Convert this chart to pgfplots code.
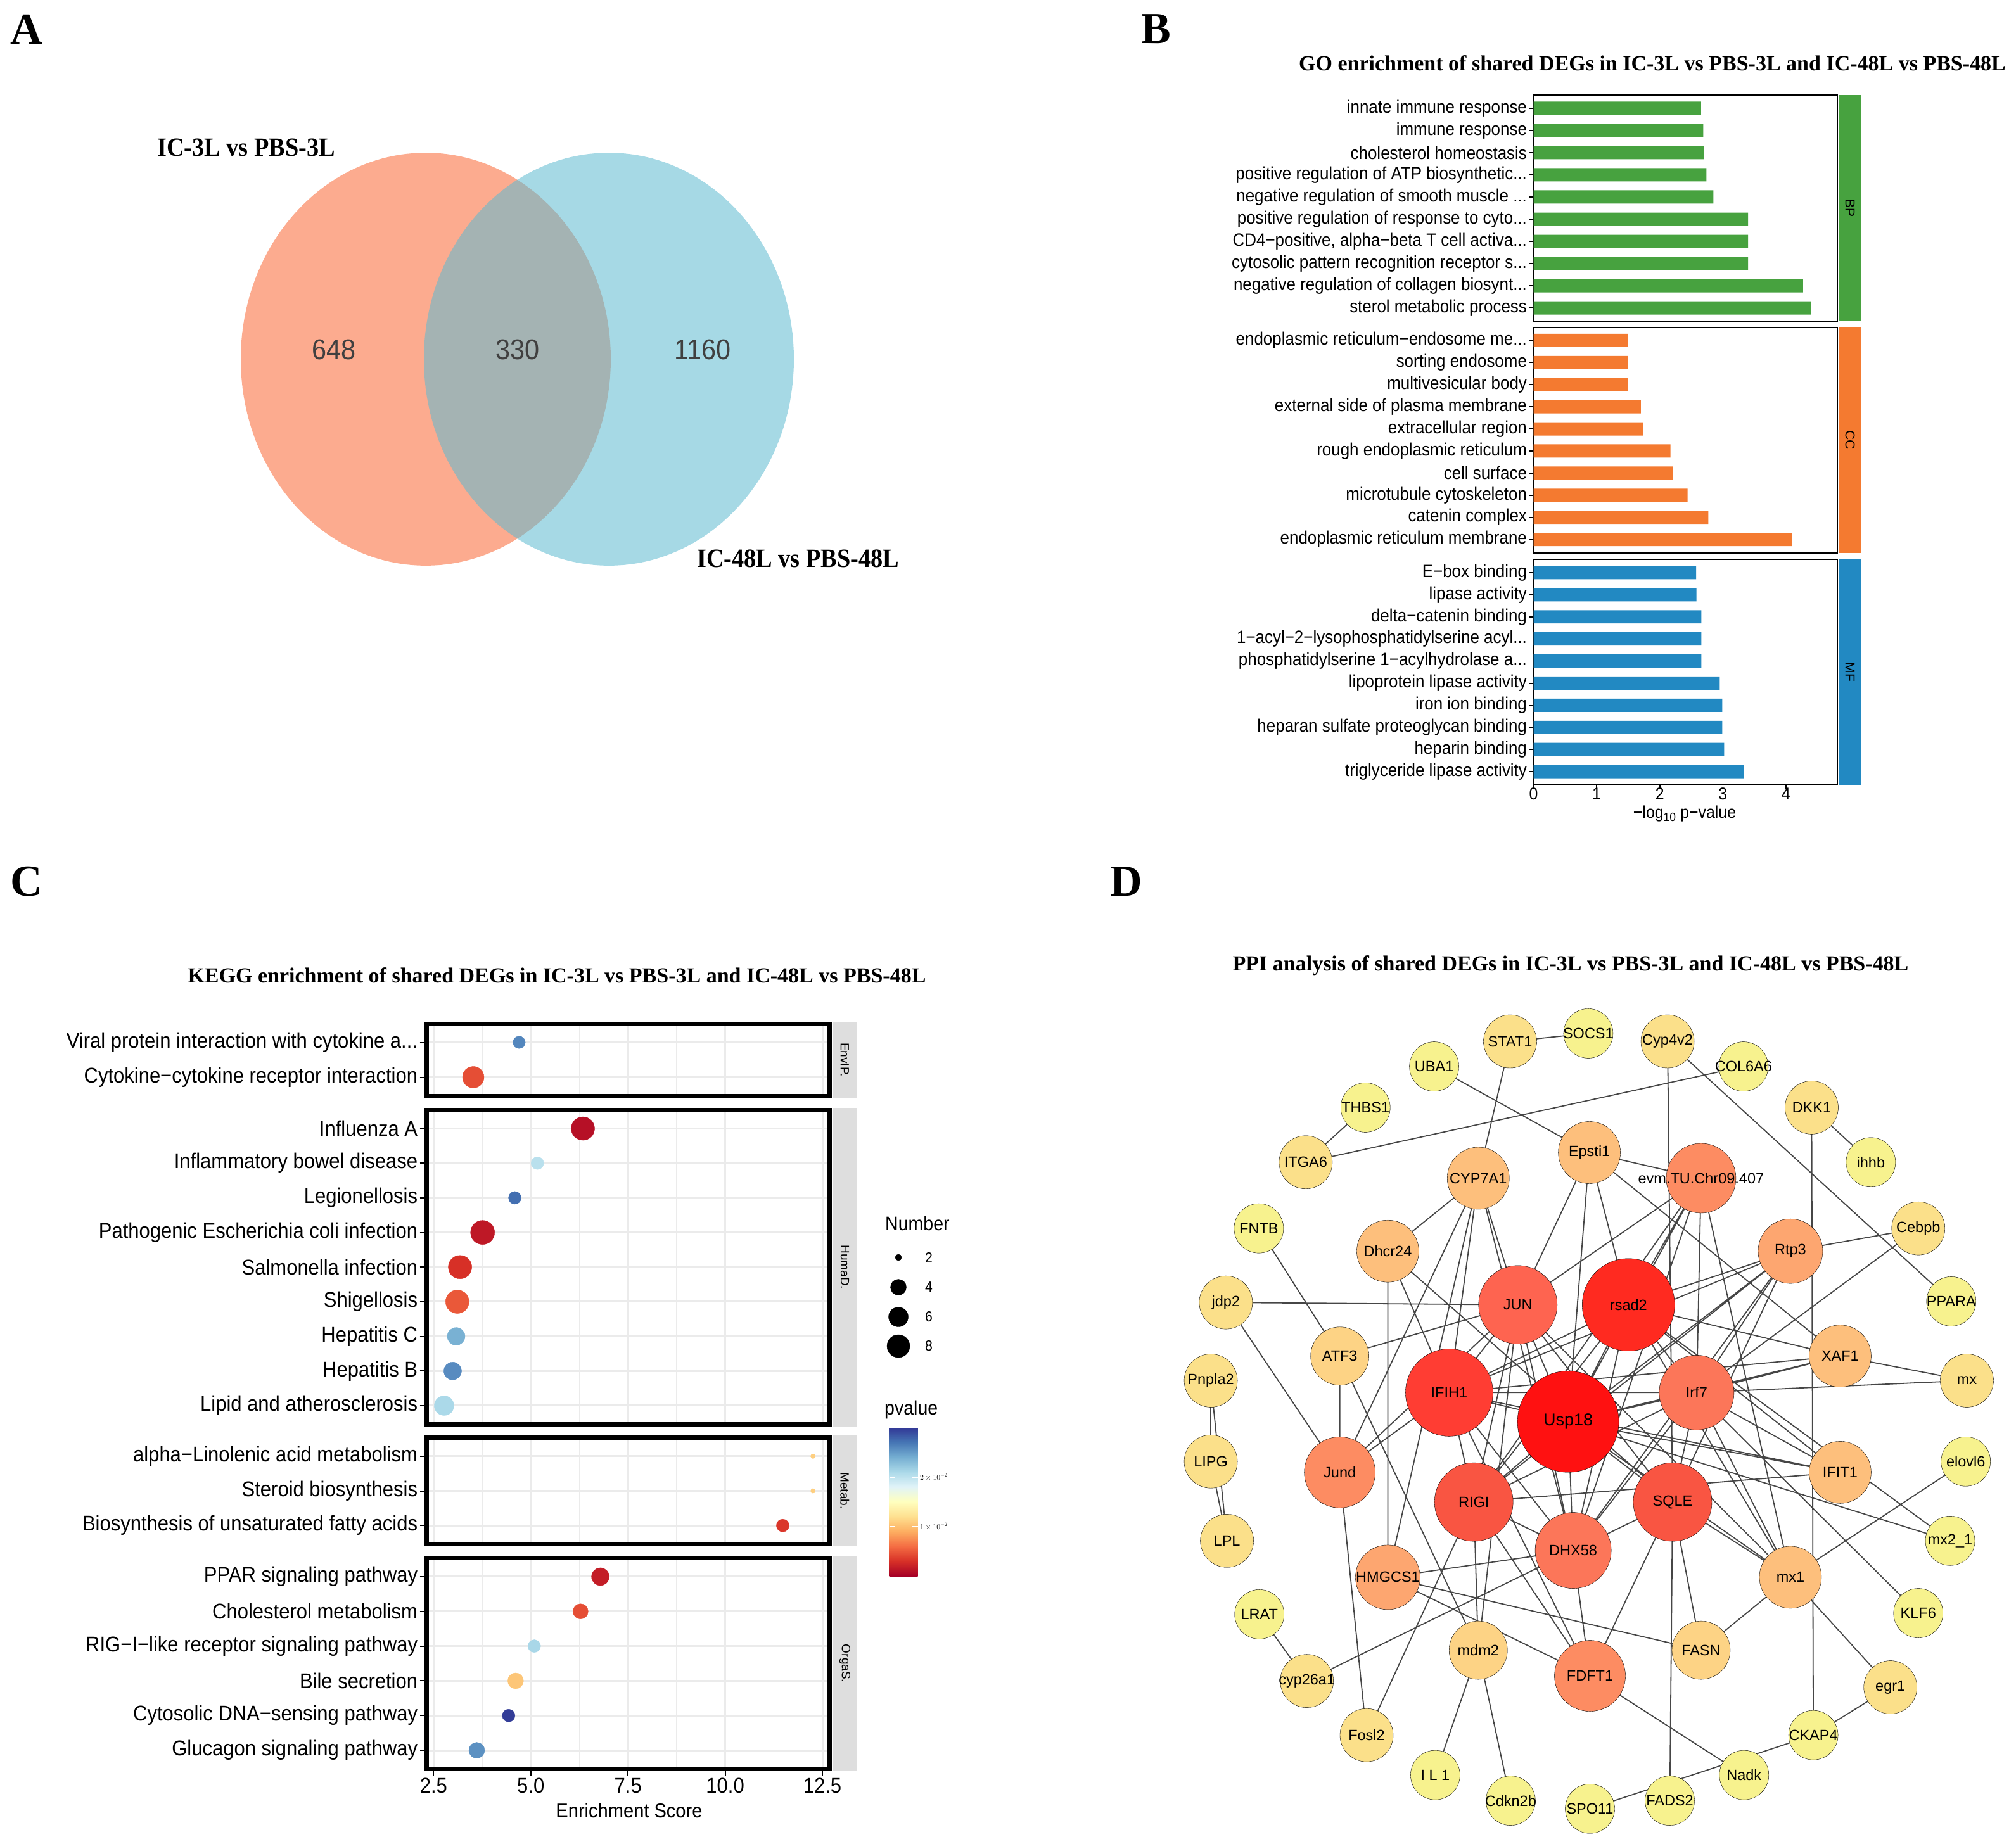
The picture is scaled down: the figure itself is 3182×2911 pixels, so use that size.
\documentclass[border=0pt]{standalone}
\usepackage{fontspec}
\usepackage{pgfplots}
\usepackage{pgfplotstable}
\pgfplotsset{compat=1.18}

\setmainfont{Liberation Sans}
\newfontfamily\sfS{Liberation Sans}[FakeStretch=0.92]
\newfontfamily\sfN{Liberation Sans}
\newfontfamily\rmT{Liberation Serif}
\newfontfamily\rmS{Liberation Serif}[FakeStretch=0.92]
\newcommand\fs[1]{\fontsize{#1}{#1}\selectfont}
\newcommand\dd{...}

\definecolor{vennL}{RGB}{249,102,51}
\definecolor{vennR}{RGB}{93,186,208}
\definecolor{venntxt}{RGB}{64,64,64}
\definecolor{gobp}{RGB}{71,162,63}
\definecolor{gocc}{RGB}{244,122,48}
\definecolor{gomf}{RGB}{34,137,194}
\definecolor{gridgray}{RGB}{235,235,235}
\definecolor{stripgray}{RGB}{222,222,222}
\definecolor{edgegray}{RGB}{70,70,70}

\pgfplotsset{
  /pgf/number format/assume math mode=true,
  colormap={rdylbu}{rgb255(0cm)=(165,0,38) rgb255(1cm)=(215,48,39) rgb255(2cm)=(244,109,67)
    rgb255(3cm)=(253,174,97) rgb255(4cm)=(254,224,144) rgb255(5cm)=(255,255,191)
    rgb255(6cm)=(224,243,248) rgb255(7cm)=(171,217,233) rgb255(8cm)=(116,173,209)
    rgb255(9cm)=(69,117,180) rgb255(10cm)=(49,54,149)},
  colormap={ppimap}{rgb255(0cm)=(247,242,142) rgb255(1cm)=(251,224,138) rgb255(3cm)=(253,211,133)
    rgb255(4cm)=(253,191,124) rgb255(6cm)=(253,166,112) rgb255(7cm)=(253,140,98)
    rgb255(9cm)=(252,118,89) rgb255(10cm)=(254,100,80) rgb255(11cm)=(249,85,66)
    rgb255(13cm)=(255,61,51) rgb255(15cm)=(255,42,32) rgb255(18cm)=(255,17,17)},
  goax/.style={scale only axis, width=479.5pt, xmin=0, xmax=4.814, ymin=0.4, ymax=10.6,
    xbar, bar width=0.6, ytick={1,...,10}, tick pos=left, tick align=outside,
    major tick length=7pt, tick style={draw=black, line width=1.6pt},
    axis line style={line width=2pt},
    yticklabel style={font=\sfS\fs{28.2}, text=black},
    xticklabel style={font=\sfS\fs{27}, text=black, yshift=6pt}},
  keggax/.style={scale only axis, width=635.9pt, xmin=2.325, xmax=12.688, ymin=0.459,
    xtick={2.5,5,7.5,10,12.5}, minor xtick={3.75,6.25,8.75,11.25},
    xmajorgrids, xminorgrids, ymajorgrids,
    major grid style={draw=gridgray, line width=3pt},
    minor grid style={draw=gridgray, line width=1.6pt},
    axis line style={line width=6.5pt},
    tick pos=left, tick align=outside, major tick length=11pt, minor tick length=0pt,
    ytick style={draw=black, line width=2pt},
    xtick style={draw=none}, xticklabels={},
    yticklabel style={font=\sfS\fs{33.7}, text=black},
    colormap name=rdylbu, point meta min=0, point meta max=0.0301},
  keggpts/.style={scatter, only marks, mark=*, scatter src=explicit,
    scatter/use mapped color={draw=mapped color, fill=mapped color},
    visualization depends on={\thisrow{d}/2\as\keggrad},
    scatter/@pre marker code/.append style={/tikz/mark size=\keggrad pt}},
  ppiedge/.style={no marks, draw=edgegray, line width=1.8pt, unbounded coords=jump},
}

% KEGG facets: y = row (1 = bottom), x = enrichment score, n = Number, d = dot diameter, p = pvalue
\pgfplotstableread{
y x n d p
1 3.52 7 34 0.0045
2 4.70 3 19.5 0.0262
}\keggEnv
\pgfplotstableread{
y x n d p
1 2.77 6 31 0.0211
2 2.99 5 28 0.0259
3 3.08 5 28 0.0238
4 3.11 8 37 0.0050
5 3.18 8 37 0.0030
6 3.76 8 38 0.0015
7 4.59 3 20 0.0274
8 5.17 3 20 0.0203
9 6.34 8 37 0.0010
}\keggHum
\pgfplotstableread{
y x n d p
1 11.48 3 20 0.0033
2 12.26 1 7.5 0.0110
3 12.26 1 7.5 0.0110
}\keggMet
\pgfplotstableread{
y x n d p
1 3.61 4 25 0.0256
2 4.43 3 20 0.0298
3 4.61 4 25 0.0105
4 5.09 3 20 0.0212
5 6.28 4 24 0.0045
6 6.79 5 28 0.0018
}\keggOrg
% size legend of panel C
\pgfplotstableread{
x y n r
1418 1985 2 5
1418 2032 4 12.5
1418 2079 6 15.5
1418 2125 8 18
}\keggSize

% PPI nodes (layout coordinates), r = radius, deg = degree
\pgfplotstableread{
key lab x y r deg fsz
SOCS1 SOCS1 802 146 39 1 23.5
STAT1 STAT1 662 160 42 2 23.5
UBA1 UBA1 526 204 39 1 23.5
THBS1 THBS1 403 276 39 1 23.5
ITGA6 ITGA6 296 372 42 2 23.5
FNTB FNTB 212 488 39 1 23.5
jdp2 jdp2 153 618 42 2 23.5
Pnpla2 Pnpla2 126 755 42 2 23.5
LIPG LIPG 126 897 42 2 23.5
LPL LPL 155 1036 42 2 23.5
LRAT LRAT 213 1165 39 1 23.5
cyp26a1 cyp26a1 298 1282 42 2 23.5
Fosl2 Fosl2 405 1377 42 2 23.5
IL1 I~L~1 528 1447 39 1 23.5
Cdkn2b Cdkn2b 663 1492 39 1 23.5
SPO11 SPO11 805 1506 39 1 23.5
FADS2 FADS2 948 1492 39 1 23.5
Nadk Nadk 1081 1447 39 1 23.5
CKAP4 CKAP4 1205 1377 39 1 23.5
egr1 egr1 1343 1293 42 2 23.5
KLF6 KLF6 1393 1163 39 1 23.5
mx21 mx2\_1 1450 1036 39 1 23.5
elovl6 elovl6 1478 897 39 1 23.5
mx mx 1480 755 42 2 23.5
PPARA PPARA 1452 616 39 1 23.5
Cebpb Cebpb 1393 488 42 2 23.5
ihhb ihhb 1308 372 39 1 23.5
DKK1 DKK1 1202 276 42 2 23.5
COL6A6 COL6A6 1080 204 39 1 23.5
Cyp4v2 Cyp4v2 944 160 42 2 23.5
Epsti1 Epsti1 804 355 49 5 23.5
evm evm.TU.Chr09.407 1004 400 55 8 23.5
Rtp3 Rtp3 1164 528 51 7 23.5
XAF1 XAF1 1253 712 49 5 23.5
IFIT1 IFIT1 1253 916 49 5 23.5
mx1 mx1 1164 1100 49 5 23.5
FASN FASN 1004 1228 46 4 23.5
FDFT1 FDFT1 805 1273 56 8 23.5
mdm2 mdm2 605 1228 46 4 23.5
HMGCS1 HMGCS1 443 1100 51 7 23.5
Jund Jund 357 916 56 8 23.5
ATF3 ATF3 357 712 46 4 23.5
Dhcr24 Dhcr24 443 528 49 5 23.5
CYP7A1 CYP7A1 605 400 49 5 23.5
JUN JUN 676 622 62 11 23.5
rsad2 rsad2 874 622 73 16 23.5
IFIH1 IFIH1 553 776 69 14 23.5
Irf7 Irf7 996 776 59 10 23.5
Usp18 Usp18 766 827 80 19 27
RIGI RIGI 597 968 62 12 23.5
SQLE SQLE 953 968 62 12 23.5
DHX58 DHX58 775 1053 60 10 23.5
}\ppinodes

\pgfplotstablegetrowsof{\ppinodes}
\pgfmathtruncatemacro\ppilast{\pgfplotsretval-1}
\foreach \i in {0,...,\ppilast}{%
  \pgfplotstablegetelem{\i}{key}\of\ppinodes\let\ppik\pgfplotsretval
  \pgfplotstablegetelem{\i}{x}\of\ppinodes\let\ppix\pgfplotsretval
  \pgfplotstablegetelem{\i}{y}\of\ppinodes\let\ppiy\pgfplotsretval
  \expandafter\xdef\csname ppi@\ppik\endcsname{\ppix,\ppiy}%
}
\def\ppiedges{}
\foreach \a/\b in {SOCS1/STAT1,STAT1/CYP7A1,UBA1/Epsti1,THBS1/ITGA6,ITGA6/COL6A6,
  Cyp4v2/SQLE,Cyp4v2/PPARA,DKK1/ihhb,DKK1/CKAP4,FNTB/ATF3,jdp2/JUN,jdp2/Jund,
  Pnpla2/LIPG,LIPG/LPL,Pnpla2/LPL,LRAT/cyp26a1,cyp26a1/DHX58,Fosl2/Jund,Fosl2/RIGI,
  IL1/mdm2,Cdkn2b/mdm2,SPO11/CKAP4,CKAP4/egr1,FADS2/SQLE,Nadk/FDFT1,KLF6/Irf7,
  egr1/mx1,mx21/Usp18,mx21/rsad2,elovl6/mx1,mx/XAF1,mx/Irf7,Cebpb/Rtp3,Cebpb/Irf7,
  Epsti1/evm,Epsti1/JUN,Epsti1/Usp18,Epsti1/rsad2,Epsti1/XAF1,
  CYP7A1/JUN,CYP7A1/Dhcr24,CYP7A1/IFIH1,CYP7A1/Jund,CYP7A1/HMGCS1,CYP7A1/DHX58,
  Dhcr24/HMGCS1,Dhcr24/SQLE,Dhcr24/IFIH1,ATF3/Jund,ATF3/JUN,ATF3/mdm2,
  Jund/JUN,Jund/IFIH1,HMGCS1/FDFT1,HMGCS1/FASN,HMGCS1/DHX58,mdm2/JUN,mdm2/RIGI,
  FDFT1/SQLE,FDFT1/RIGI,FDFT1/IFIH1,FDFT1/DHX58,FASN/SQLE,FASN/mx1,
  mx1/Irf7,mx1/rsad2,mx1/Usp18,mx1/SQLE,mx1/evm,mx1/JUN,
  IFIT1/Usp18,IFIT1/Irf7,IFIT1/IFIH1,IFIT1/rsad2,IFIT1/RIGI,
  XAF1/rsad2,XAF1/Irf7,XAF1/Usp18,XAF1/IFIH1,
  Rtp3/rsad2,Rtp3/Usp18,Rtp3/Irf7,Rtp3/IFIH1,Rtp3/RIGI,Rtp3/DHX58,Rtp3/SQLE,
  evm/rsad2,evm/Usp18,evm/Irf7,evm/JUN,evm/DHX58,evm/RIGI,
  JUN/IFIH1,JUN/Usp18,JUN/RIGI,JUN/SQLE,JUN/DHX58,
  rsad2/IFIH1,rsad2/Usp18,rsad2/Irf7,rsad2/RIGI,rsad2/DHX58,
  IFIH1/Usp18,IFIH1/RIGI,IFIH1/DHX58,IFIH1/Irf7,
  Usp18/Irf7,Usp18/RIGI,Usp18/SQLE,Usp18/DHX58,
  Irf7/RIGI,Irf7/DHX58,Irf7/SQLE,RIGI/DHX58,SQLE/DHX58}{%
  \xdef\ppiedges{\ppiedges(\csname ppi@\a\endcsname)(\csname ppi@\b\endcsname)(nan,nan)}%
}

\begin{document}
\begin{tikzpicture}
\path[use as bounding box] (0pt,0pt) rectangle (3182pt,-2911pt);

%% ---------------- A: Venn
\node[anchor=base west, inner sep=0pt, font=\rmT\bfseries\fs{70}] at (16pt,-70pt) {A};
\begin{axis}[at={(0pt,0pt)}, anchor=north west, scale only axis, width=1500pt, height=1000pt,
  xmin=0, xmax=1500, ymin=0, ymax=1000, y dir=reverse, hide axis, clip=false]
\addplot[only marks, mark=*, mark size=292pt,
  mark options={yscale=1.116, draw opacity=0, fill=vennL, fill opacity=0.55}] coordinates {(672,567)};
\addplot[only marks, mark=*, mark size=292pt,
  mark options={yscale=1.116, draw opacity=0, fill=vennR, fill opacity=0.55}] coordinates {(961,567)};
\addplot[draw=none, mark=none, point meta=explicit symbolic, nodes near coords,
  every node near coord/.append style={anchor=center, inner sep=0pt, font=\sfS\fs{45}, text=venntxt}]
  coordinates {(527,552)[648] (817,552)[330] (1109,552)[1160]};
\end{axis}
\node[anchor=base west, inner sep=0pt, font=\rmS\bfseries\fs{41.6}] at (248pt,-247pt) {IC-3L vs PBS-3L};
\node[anchor=base west, inner sep=0pt, font=\rmS\bfseries\fs{41.6}] at (1100pt,-895pt) {IC-48L vs PBS-48L};

%% ---------------- B: GO bars
\node[anchor=base west, inner sep=0pt, font=\rmT\bfseries\fs{70}] at (1801pt,-69pt) {B};
\node[anchor=base, inner sep=0pt, font=\rmT\bfseries\fs{34}] at (2608pt,-112pt)
  {GO enrichment of shared DEGs in IC-3L vs PBS-3L and IC-48L vs PBS-48L};

\begin{axis}[goax, at={(2420.5pt,-150pt)}, anchor=north west, height=357pt, xtick=\empty,
  yticklabels={sterol metabolic process, negative regulation of collagen biosynt\dd,
    cytosolic pattern recognition receptor s\dd, {CD4−positive, alpha−beta T cell activa\dd},
    positive regulation of response to cyto\dd, negative regulation of smooth muscle \dd,
    positive regulation of ATP biosynthetic\dd, cholesterol homeostasis, immune response,
    innate immune response}]
\addplot[draw=none, fill=gobp] coordinates {(4.39,1) (4.27,2) (3.40,3) (3.40,4) (3.40,5)
  (2.85,6) (2.74,7) (2.70,8) (2.69,9) (2.655,10)};
\end{axis}
\begin{axis}[goax, at={(2420.5pt,-516.5pt)}, anchor=north west, height=356pt, xtick=\empty,
  yticklabels={endoplasmic reticulum membrane, catenin complex, microtubule cytoskeleton,
    cell surface, rough endoplasmic reticulum, extracellular region,
    external side of plasma membrane, multivesicular body, sorting endosome,
    endoplasmic reticulum−endosome me\dd}]
\addplot[draw=none, fill=gocc] coordinates {(4.09,1) (2.77,2) (2.44,3) (2.21,4) (2.17,5)
  (1.73,6) (1.70,7) (1.50,8) (1.50,9) (1.50,10)};
\end{axis}
\begin{axis}[goax, at={(2420.5pt,-883pt)}, anchor=north west, height=356pt, xtick={0,1,2,3,4},
  yticklabels={triglyceride lipase activity, heparin binding, heparan sulfate proteoglycan binding,
    iron ion binding, lipoprotein lipase activity, phosphatidylserine 1−acylhydrolase a\dd,
    1−acyl−2−lysophosphatidylserine acyl\dd, delta−catenin binding, lipase activity,
    E−box binding}]
\addplot[draw=none, fill=gomf] coordinates {(3.33,1) (3.02,2) (2.99,3) (2.99,4) (2.95,5)
  (2.66,6) (2.66,7) (2.66,8) (2.58,9) (2.575,10)};
\end{axis}
\fill[gobp] (2902pt,-150pt) rectangle (2938pt,-507pt);
\fill[gocc] (2902pt,-516.5pt) rectangle (2938pt,-872.5pt);
\fill[gomf] (2902pt,-883pt) rectangle (2938pt,-1239pt);
\node[rotate=-90, font=\sfN\fs{21}] at (2920pt,-328.5pt) {BP};
\node[rotate=-90, font=\sfN\fs{21}] at (2920pt,-694.5pt) {CC};
\node[rotate=-90, font=\sfN\fs{21}] at (2920pt,-1061pt) {MF};
\node[font=\sfS\fs{27}] at (2659pt,-1285pt) {−log\textsubscript{10} p−value};

%% ---------------- C: KEGG dots
\node[anchor=base west, inner sep=0pt, font=\rmT\bfseries\fs{70}] at (16pt,-1414pt) {C};
\node[anchor=base, inner sep=0pt, font=\rmT\bfseries\fs{34}] at (879pt,-1551pt)
  {KEGG enrichment of shared DEGs in IC-3L vs PBS-3L and IC-48L vs PBS-48L};

\begin{axis}[keggax, at={(673.65pt,-1615.75pt)}, anchor=north west, height=114.5pt, ymax=2.541,
  ytick={1,2}, yticklabels={Cytokine−cytokine receptor interaction,
    Viral protein interaction with cytokine a\dd}]
\addplot[keggpts] table[x=x, y=y, meta=p]{\keggEnv};
\end{axis}
\begin{axis}[keggax, at={(673.65pt,-1751.95pt)}, anchor=north west, height=496.6pt, ymax=9.541,
  ytick={1,...,9}, yticklabels={Lipid and atherosclerosis, Hepatitis B, Hepatitis C, Shigellosis,
    Salmonella infection, Pathogenic Escherichia coli infection, Legionellosis,
    Inflammatory bowel disease, Influenza A},
  colorbar, colorbar/width=45pt,
  colorbar style={at={(parent axis.north east)}, anchor=north west, xshift=85.45pt, yshift=-501.05pt,
    scale only axis, height=235pt, axis line style={draw=none}, scaled y ticks=false,
    ytick={0.01,0.02}, yticklabels={$1\times10^{-2}$, $2\times10^{-2}$},
    yticklabel style={font=\rmT\fs{12}, text=black},
    tick pos=both, yticklabel pos=right, tick align=inside, major tick length=9pt,
    ytick style={draw=white, line width=2pt}}]
\addplot[keggpts] table[x=x, y=y, meta=p]{\keggHum};
\end{axis}
\begin{axis}[keggax, at={(673.65pt,-2269.25pt)}, anchor=north west, height=168.5pt, ymax=3.541,
  ytick={1,2,3}, yticklabels={Biosynthesis of unsaturated fatty acids, Steroid biosynthesis,
    alpha−Linolenic acid metabolism}]
\addplot[keggpts] table[x=x, y=y, meta=p]{\keggMet};
\end{axis}
\begin{axis}[keggax, at={(673.65pt,-2459.25pt)}, anchor=north west, height=333.5pt, ymax=6.541,
  ytick={1,...,6}, yticklabels={Glucagon signaling pathway, Cytosolic DNA−sensing pathway,
    Bile secretion, RIG−I−like receptor signaling pathway, Cholesterol metabolism,
    PPAR signaling pathway},
  xtick style={draw=black, line width=2pt}, xticklabels={2.5,5.0,7.5,10.0,12.5},
  xticklabel style={font=\sfS\fs{33.7}, text=black}]
\addplot[keggpts] table[x=x, y=y, meta=p]{\keggOrg};
\end{axis}
\fill[stripgray] (1315pt,-1612.5pt) rectangle (1352pt,-1733.5pt);
\fill[stripgray] (1315pt,-1748.7pt) rectangle (1352pt,-2251.8pt);
\fill[stripgray] (1315pt,-2266pt) rectangle (1352pt,-2441pt);
\fill[stripgray] (1315pt,-2456pt) rectangle (1352pt,-2796pt);
\node[rotate=-90, font=\sfN\fs{19}] at (1333.5pt,-1673pt) {EnvIP.};
\node[rotate=-90, font=\sfN\fs{19}] at (1333.5pt,-2000.3pt) {HumaD.};
\node[rotate=-90, font=\sfN\fs{19}] at (1333.5pt,-2353.5pt) {Metab.};
\node[rotate=-90, font=\sfN\fs{19}] at (1333.5pt,-2626pt) {OrgaS.};
\node[font=\sfS\fs{31.6}] at (993pt,-2858pt) {Enrichment Score};

% size legend
\node[anchor=base west, inner sep=0pt, font=\sfS\fs{31}] at (1397pt,-1942pt) {Number};
\begin{axis}[at={(1350pt,-1880pt)}, anchor=north west, scale only axis, width=250pt, height=300pt,
  xmin=1350, xmax=1600, ymin=1880, ymax=2180, y dir=reverse, hide axis, clip=false]
\addplot[scatter, only marks, mark=*, scatter src=explicit,
  scatter/use mapped color={draw=black, fill=black},
  visualization depends on={\thisrow{r}\as\lgrad},
  scatter/@pre marker code/.append style={/tikz/mark size=\lgrad pt}]
  table[x=x, y=y, meta=n]{\keggSize};
\addplot[draw=none, mark=none, nodes near coords, point meta=explicit,
  every node near coord/.append style={anchor=west, xshift=42pt, inner sep=0pt, font=\sfS\fs{23}, text=black}]
  table[x=x, y=y, meta=n]{\keggSize};
\end{axis}
\node[anchor=base west, inner sep=0pt, font=\sfS\fs{31}] at (1396pt,-2233pt) {pvalue};

%% ---------------- D: PPI network
\node[anchor=base west, inner sep=0pt, font=\rmT\bfseries\fs{70}] at (1752pt,-1414pt) {D};
\node[anchor=base, inner sep=0pt, font=\rmT\bfseries\fs{34}] at (2479pt,-1532pt)
  {PPI analysis of shared DEGs in IC-3L vs PBS-3L and IC-48L vs PBS-48L};
\begin{axis}[at={(1800pt,-1500pt)}, anchor=north west, scale only axis, width=1382pt, height=1411pt,
  xmin=0, xmax=1568, ymin=0, ymax=1568, y dir=reverse, hide axis, clip=false,
  colormap name=ppimap, point meta min=1, point meta max=19, unbounded coords=jump]
\edef\ppitmp{\noexpand\addplot[ppiedge] coordinates {\ppiedges};}\ppitmp
\addplot[scatter, only marks, mark=*, scatter src=explicit,
  scatter/use mapped color={draw=black, fill=mapped color},
  visualization depends on={\thisrow{r}\as\ppirad},
  scatter/@pre marker code/.append style={/tikz/mark size=\ppirad pt, /tikz/line width=1.4pt}]
  table[x=x, y=y, meta=deg]{\ppinodes};
\addplot[draw=none, mark=none, point meta=explicit symbolic, nodes near coords,
  visualization depends on={\thisrow{fsz}\as\ppifs},
  every node near coord/.append style={anchor=center, inner sep=0pt, text=black, font=\sfN\fs{\ppifs}}]
  table[x=x, y=y, meta=lab]{\ppinodes};
\end{axis}
\end{tikzpicture}
\end{document}
